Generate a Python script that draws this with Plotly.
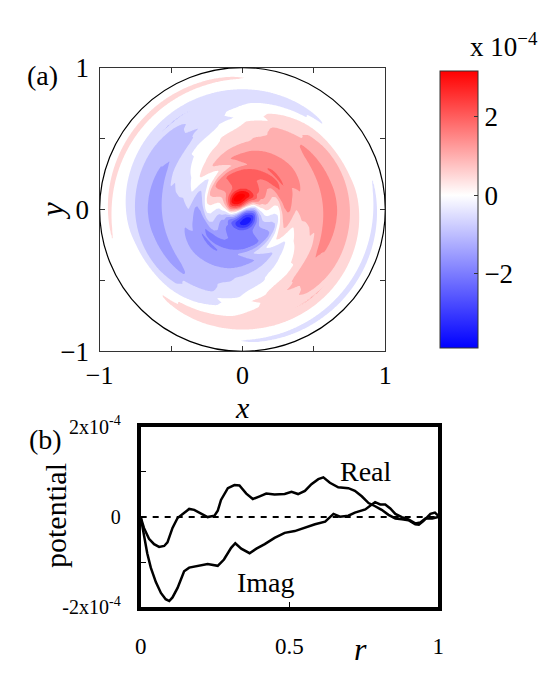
import numpy as np
import plotly.graph_objects as go

# ---------------- data (potential in units of 1e-4) ----------------
r_real = [0, 0.011, 0.028, 0.045, 0.062, 0.079, 0.09, 0.107, 0.124, 0.146, 0.163, 0.18,
          0.203, 0.225, 0.248, 0.259, 0.27, 0.293, 0.315, 0.332, 0.355, 0.377, 0.40, 0.422,
          0.45, 0.484, 0.507, 0.529, 0.552, 0.574, 0.597, 0.614, 0.636, 0.664, 0.698, 0.72,
          0.743, 0.766, 0.788, 0.81, 0.833, 0.856, 0.878, 0.90, 0.923, 0.935, 0.95, 0.974,
          0.989, 1.0]
real_vals = [0, -0.24, -0.48, -0.60, -0.66, -0.64, -0.56, -0.24, -0.02, 0.09, 0.18, 0.16,
             0.07, 0.0, 0.03, 0.14, 0.38, 0.64, 0.71, 0.70, 0.52, 0.40, 0.46, 0.52,
             0.50, 0.51, 0.56, 0.51, 0.58, 0.73, 0.84, 0.88, 0.76, 0.66, 0.64, 0.58,
             0.46, 0.31, 0.24, 0.16, 0.05, -0.03, -0.05, -0.07, -0.16, -0.17, -0.09, 0.07,
             0.10, 0.03]

r_imag = [0, 0.011, 0.022, 0.034, 0.051, 0.068, 0.084, 0.096, 0.107, 0.124, 0.146, 0.163,
          0.19, 0.225, 0.259, 0.28, 0.304, 0.318, 0.338, 0.366, 0.389, 0.417, 0.45, 0.484,
          0.518, 0.552, 0.586, 0.62, 0.648, 0.67, 0.698, 0.72, 0.738, 0.755, 0.777, 0.788,
          0.805, 0.822, 0.839, 0.856, 0.878, 0.90, 0.923, 0.94, 0.957, 0.98, 1.0]
imag_vals = [0, -0.38, -0.80, -1.12, -1.44, -1.68, -1.82, -1.86, -1.78, -1.57, -1.20, -1.12,
             -1.08, -1.04, -1.08, -0.94, -0.68, -0.58, -0.70, -0.80, -0.70, -0.60, -0.46, -0.35,
             -0.31, -0.23, -0.16, -0.10, 0.07, 0.01, 0.03, 0.10, 0.14, 0.17, 0.28, 0.33,
             0.28, 0.28, 0.19, 0.07, 0.0, -0.05, -0.14, -0.12, -0.03, -0.03, 0.0]

zero_line_r = [0, 1]
zero_line_v = [0, 0]

# colour range of panel (a) (units of 1e-4)
cbar_min, cbar_max = -3.9, 3.17
panel_a_peak = 3.6        # peak of the central blobs in panel (a)
cbar_ticks = [-2, 0, 2]
cbar_ticktext = ["\u22122", "0", "2"]

# ---------------- geometry helpers ----------------
W, H = 551, 673
def px(x): return x / W
def py(y): return 1 - y / H

FONT = "Liberation Serif"

# ---------------- panel (a) field: m = 1 mode built from the profiles ----------------
g = np.linspace(-1, 1, 301)
X, Y = np.meshgrid(g, g)
R = np.hypot(X, Y)
T = np.arctan2(Y, X)
re = np.interp(R, r_real, real_vals)
im = np.interp(R, r_imag, imag_vals)
amp = np.hypot(re, im)[R <= 1].max()
gain = panel_a_peak / amp
field = gain * (re * np.cos(T) - im * np.sin(T))
heat = np.where(R <= 1, field, np.nan)
fill = np.where(R <= 1, field, 0.0)

# contour levels
c_start, c_end, c_size = -3.75, 3.75, 0.5
lo, hi = c_start - c_size / 2, c_end + c_size / 2
def pos(v): return (v - lo) / (hi - lo)
blue, white, red = "rgb(0,0,255)", "rgb(255,255,255)", "rgb(255,0,0)"
contour_cs = [[0, blue], [pos(cbar_min), blue], [pos(0), white], [pos(cbar_max), red], [1, red]]
bar_cs = [[0, blue], [(0 - cbar_min) / (cbar_max - cbar_min), white], [1, red]]

fig = go.Figure()

fig.add_trace(go.Heatmap(
    x=g, y=g, z=heat, zmin=cbar_min, zmax=cbar_max, colorscale=bar_cs,
    hoverinfo="skip", xaxis="x", yaxis="y",
    colorbar=dict(
        x=px(433), xanchor="left", y=py(203.5), yanchor="middle",
        thickness=38, thicknessmode="pixels", len=297, lenmode="pixels",
        outlinecolor="#333", outlinewidth=1,
        tickvals=cbar_ticks, ticktext=cbar_ticktext,
        ticks="inside", ticklen=4, tickcolor="#333",
        tickfont=dict(family=FONT, size=27, color="black"),
    ),
))

fig.add_trace(go.Contour(
    x=g, y=g, z=fill, colorscale=contour_cs, showscale=False,
    autocontour=False,
    contours=dict(start=c_start, end=c_end, size=c_size, coloring="fill", showlines=False),
    line=dict(width=0), hoverinfo="skip", xaxis="x", yaxis="y",
))

# ---------------- panel (b) ----------------
fig.add_trace(go.Scatter(x=zero_line_r, y=zero_line_v, mode="lines",
                         line=dict(color="black", width=2, dash="6px,6px"),
                         xaxis="x2", yaxis="y2", showlegend=False))
fig.add_trace(go.Scatter(x=r_real, y=real_vals, mode="lines", name="Real",
                         line=dict(color="black", width=2.5),
                         xaxis="x2", yaxis="y2", showlegend=False))
fig.add_trace(go.Scatter(x=r_imag, y=imag_vals, mode="lines", name="Imag",
                         line=dict(color="black", width=2.5),
                         xaxis="x2", yaxis="y2", showlegend=False))

ax_a = dict(range=[-1, 1], tickvals=[-1, -0.5, 0, 0.5, 1],
            ticktext=["\u22121", "", "0", "", "1"], ticks="inside", ticklen=5,
            tickcolor="#333", showline=True, linecolor="#333", linewidth=1.2,
            mirror="ticks", showgrid=False, zeroline=False,
            tickfont=dict(family=FONT, size=27, color="black"))

fig.update_layout(
    width=W, height=H, margin=dict(l=0, r=0, t=0, b=0),
    paper_bgcolor="white", plot_bgcolor="white", showlegend=False,
    xaxis=dict(ax_a, domain=[px(89), px(386)], anchor="y", ticklabelstandoff=0,
               tickfont=dict(family=FONT, size=26, color="black")),
    yaxis=dict(ax_a, domain=[py(352), py(55)], anchor="x", ticklabelstandoff=4),
    xaxis2=dict(domain=[px(131.7), px(441)], range=[0, 1], anchor="y2",
                tickvals=[0, 0.5, 1], ticktext=["0", "0.5", "1"],
                ticks="inside", ticklen=5, tickcolor="black", tickwidth=1,
                showline=True, linecolor="black", linewidth=4, mirror=True,
                showgrid=False, zeroline=False, ticklabelstandoff=15,
                tickfont=dict(family=FONT, size=23, color="black")),
    yaxis2=dict(domain=[py(620), py(431)], range=[-2, 2], anchor="x2",
                tickvals=[-2, -1, 0, 1, 2],
                ticktext=["-2x10<sup>-4</sup>", "", "0", "", "2x10<sup>-4</sup>"],
                ticks="inside", ticklen=5, tickcolor="black", tickwidth=1,
                showline=True, linecolor="black", linewidth=4, mirror=True,
                showgrid=False, zeroline=False, ticklabelstandoff=12,
                tickfont=dict(family=FONT, size=20, color="black")),
    shapes=[dict(type="circle", xref="x", yref="y", x0=-1, y0=-1, x1=1, y1=1,
                 line=dict(color="black", width=1.2), layer="above")],
)

def ann(text, x, y, size, xref="paper", yref="paper", angle=0, italic=False,
        xanchor="center", yanchor="middle"):
    fig.add_annotation(text=text, x=x, y=y, xref=xref, yref=yref, showarrow=False,
                       textangle=angle, xanchor=xanchor, yanchor=yanchor,
                       font=dict(family=FONT, size=size, color="black",
                                 style="italic" if italic else "normal"))

ann("(a)", px(30), py(63), 28)
ann("(b)", px(33), py(444), 28)
ann("y", px(39), py(205), 32, angle=-90, italic=True)
ann("x", px(238), py(411), 30, italic=True)
ann("potential", px(43), py(524), 30, angle=-90)
ann("r", px(360), py(664), 32, italic=True)
ann("x 10<sup>\u22124</sup>", px(472), py(31), 27, xanchor="left")
ann("Real", 0.758, 1.02, 28, xref="x2", yref="y2")
ann("Imag", 0.42, -1.45, 28, xref="x2", yref="y2")

fig.write_html("out.html")
